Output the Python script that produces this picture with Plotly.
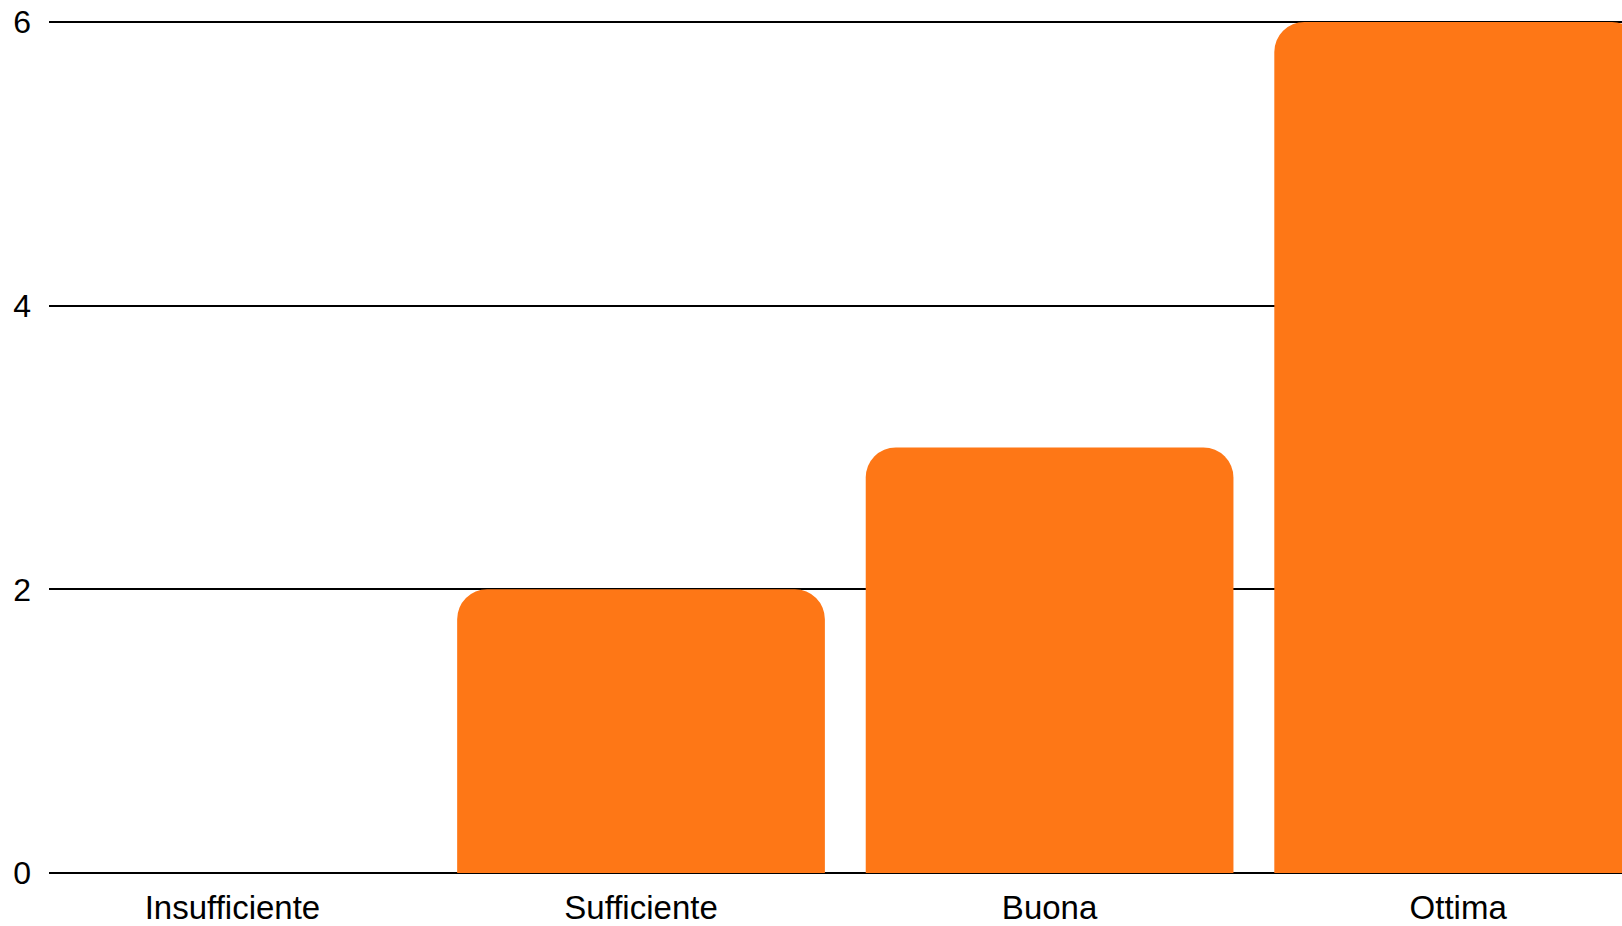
import plotly.graph_objects as go

categories = ["Insufficiente", "Sufficiente", "Buona", "Ottima"]
values = [0, 2, 3, 6]
y_ticks = [0, 2, 4, 6]

fig = go.Figure(
    go.Bar(
        x=categories,
        y=values,
        marker=dict(color="#FE7716", line=dict(width=0)),
        hoverinfo="x+y",
    )
)

font_family = "Liberation Sans, Arial, sans-serif"

fig.update_layout(
    width=1622,
    height=926,
    margin=dict(l=49, r=0, t=20, b=53, pad=0),
    paper_bgcolor="white",
    plot_bgcolor="white",
    bargap=0.1,
    barcornerradius=30,
    showlegend=False,
    font=dict(family=font_family, size=33, color="#000000"),
    xaxis=dict(
        type="category",
        range=[-0.449, 3.401],
        showgrid=False,
        showline=False,
        zeroline=False,
        ticks="",
        tickfont=dict(family=font_family, size=33, color="#000000"),
        ticklabelstandoff=12,
    ),
    yaxis=dict(
        range=[0, 6.014],
        tickvals=y_ticks,
        ticktext=[str(v) for v in y_ticks],
        showgrid=True,
        gridcolor="#000000",
        gridwidth=2,
        zeroline=True,
        zerolinecolor="#000000",
        zerolinewidth=2,
        showline=False,
        ticks="",
        tickfont=dict(family=font_family, size=32, color="#000000"),
        ticklabelstandoff=17,
    ),
)

fig.write_html(
    "out.html",
    config={"displayModeBar": False},
    post_script="document.body.style.margin='0';document.body.style.overflow='hidden';",
)
